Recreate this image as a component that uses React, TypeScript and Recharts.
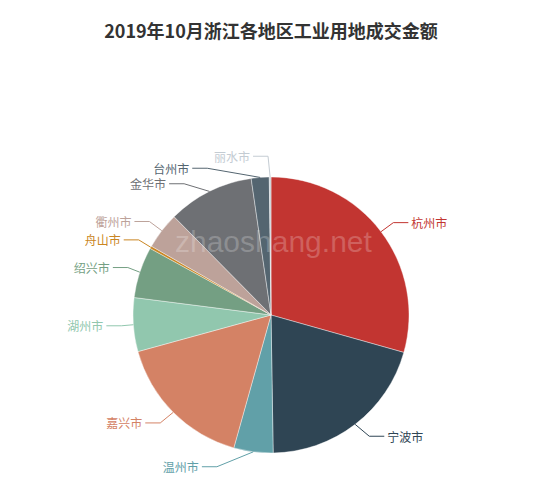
import React from 'react';
import { PieChart, Pie, Cell } from 'recharts';

const cities = ['杭州市', '宁波市', '温州市', '嘉兴市', '湖州市', '绍兴市', '舟山市', '衢州市', '金华市', '台州市', '丽水市'];
const values = [29.4, 20.4, 4.6, 16.4, 6.3, 6.0, 0.3, 4.3, 10.1, 2.1, 0.2];
const colors = ['#c23531', '#2f4554', '#61a0a8', '#d48265', '#91c7ae', '#749f83', '#ca8622', '#bda29a', '#6e7074', '#546570', '#c4ccd3'];

const titleText = '2019年10月浙江各地区工业用地成交金额';
const watermarkText = 'zhaoshang.net';

const data = cities.map((name, i) => ({ name, value: values[i] }));

const W = 550;
const H = 490;
const CX = 271;
const CY = 315;
const R = 138;
const FONT = '"Noto Sans CJK SC", "Noto Sans", sans-serif';

type Item = {
  i: number;
  x: number;
  y: number;
  height: number;
  len: number;
  len2: number;
  pts: number[][];
};

function adjustSingleSide(list: Item[], cx: number, cy: number, r: number, dir: number, viewHeight: number) {
  list.sort((a, b) => a.y - b.y);
  function shiftUp(end: number, delta: number) {
    for (let j = end; j >= 0; j--) {
      list[j].y -= delta;
      if (j > 0 && list[j].y > list[j - 1].y + list[j - 1].height) break;
    }
  }
  function shiftDown(start: number, end: number, delta: number) {
    for (let j = start; j < end; j++) {
      list[j].y += delta;
      if (j > start && j + 1 < end && list[j + 1].y > list[j].y + list[j].height) {
        shiftUp(j, delta / 2);
        return;
      }
    }
    shiftUp(end - 1, delta / 2);
  }
  function changeX(sub: Item[], isDown: boolean) {
    let last = isDown ? Number.MAX_VALUE : 0;
    for (let k = 0; k < sub.length; k++) {
      const it = sub[k];
      const dy = Math.abs(it.y - cy);
      let dx = dy < r + it.len
        ? Math.sqrt((r + it.len + it.len2) ** 2 - dy * dy)
        : Math.abs(it.x - cx);
      if (isDown && dx >= last) dx = last - 10;
      if (!isDown && dx <= last) dx = last + 10;
      it.x = cx + dx * dir;
      last = dx;
    }
  }
  let lastY = 0;
  const n = list.length;
  for (let i = 0; i < n; i++) {
    const delta = list[i].y - lastY;
    if (delta < 0) shiftDown(i, n, -delta);
    lastY = list[i].y + list[i].height;
  }
  if (viewHeight - lastY < 0 && n > 0) shiftUp(n - 1, lastY - viewHeight);
  const up: Item[] = [];
  const down: Item[] = [];
  for (let i = 0; i < n; i++) {
    if (list[i].y >= cy) down.push(list[i]);
    else up.push(list[i]);
  }
  changeX(up, false);
  changeX(down, true);
}

function computeLayout(cx: number, cy: number, r: number): Item[] {
  const total = values.reduce((s, v) => s + v, 0);
  let acc = 0;
  const len = 15;
  const len2 = 15;
  const items: Item[] = values.map((v, i) => {
    const a = ((acc + v / 2) / total) * Math.PI * 2;
    acc += v;
    const s = Math.sin(a);
    const c = Math.cos(a);
    const x1 = cx + r * s;
    const y1 = cy - r * c;
    const x2 = cx + (r + len) * s;
    const y2 = cy - (r + len) * c;
    const d = s < 0 ? -1 : 1;
    const x3 = x2 + d * len2;
    return {
      i,
      x: x3 + d * 5,
      y: y2,
      height: 12,
      len,
      len2,
      pts: [[x1, y1], [x2, y2], [x3, y2]],
    };
  });
  const left = items.filter((it) => it.x < cx);
  const right = items.filter((it) => it.x >= cx);
  adjustSingleSide(right, cx, cy, r, 1, H);
  adjustSingleSide(left, cx, cy, r, -1, H);
  items.forEach((it) => {
    const dist = it.pts[1][0] - it.pts[2][0];
    it.pts[2][0] = it.x < cx ? it.x + 3 : it.x - 3;
    it.pts[1][1] = it.pts[2][1] = it.y;
    it.pts[1][0] = it.pts[2][0] + dist;
  });
  const res: Item[] = [];
  items.forEach((it) => (res[it.i] = it));
  return res;
}

const renderLabel = (props: any) => {
  const { cx, cy, outerRadius, index } = props;
  const layout = computeLayout(cx, cy, outerRadius);
  const it = layout[index];
  const color = colors[index];
  const isLeft = it.x < cx;
  return (
    <g key={`lbl-${index}`}>
      <polyline
        points={it.pts.map((p) => `${p[0]},${p[1]}`).join(' ')}
        fill="none"
        stroke={color}
        strokeWidth={1}
      />
      <text
        x={it.x}
        y={it.y}
        fill={color}
        fontSize={12}
        fontFamily={FONT}
        textAnchor={isLeft ? 'end' : 'start'}
        dominantBaseline="central"
      >
        {cities[index]}
      </text>
    </g>
  );
};

export default function App() {
  return (
    <div style={{ position: 'absolute', left: 0, top: 0, width: W, height: H, background: '#fff' }}>
      <PieChart width={W} height={H} margin={{ top: 0, right: 0, bottom: 0, left: 0 }}>
        <Pie
          data={data}
          dataKey="value"
          nameKey="name"
          cx={CX}
          cy={CY}
          innerRadius={0}
          outerRadius={R}
          startAngle={90}
          endAngle={-270}
          stroke="#ffffff"
          strokeWidth={0.4}
          label={renderLabel}
          labelLine={false}
          isAnimationActive={false}
        >
          {data.map((d, i) => (
            <Cell key={d.name} fill={colors[i]} />
          ))}
        </Pie>
      </PieChart>
      <svg
        width={W}
        height={H}
        style={{ position: 'absolute', left: 0, top: 0, pointerEvents: 'none' }}
      >
        <text
          x={271}
          y={30}
          textAnchor="middle"
          dominantBaseline="central"
          fontSize={18}
          fontWeight="bold"
          fontFamily={FONT}
          fill="#333333"
        >
          {titleText}
        </text>
        <text
          x={175}
          y={252}
          fontSize={30}
          fontFamily='"Liberation Sans", Arial, sans-serif'
          fill="#ffffff"
          fillOpacity={0.22}
        >
          {watermarkText}
        </text>
      </svg>
    </div>
  );
}
